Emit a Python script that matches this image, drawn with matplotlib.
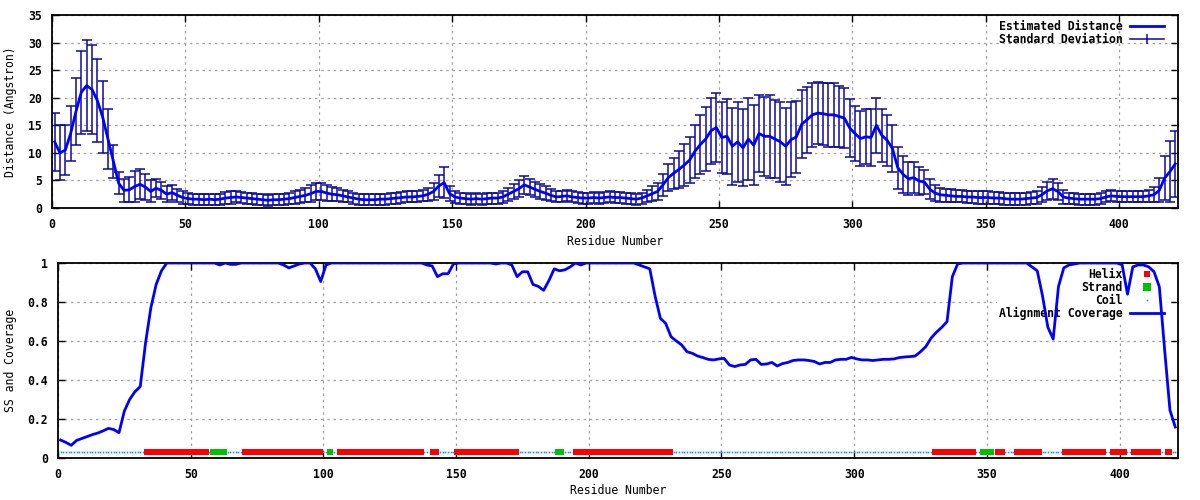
import numpy as np
import matplotlib
matplotlib.use("Agg")
import matplotlib.pyplot as plt
from matplotlib.lines import Line2D

# residues sampled every 2 (1, 3, ..., 421)
residues = np.arange(1, 422, 2)

distance = [
    12.0, 10.0, 10.5, 13.5, 17.5, 21.0, 22.2, 21.5, 19.5, 16.5,   # 1-19
    12.5, 8.5, 4.5, 3.2, 3.3, 3.9, 4.3, 3.8, 3.0, 3.6,            # 21-39
    3.2, 2.5, 2.8, 2.3, 1.9, 1.7, 1.6, 1.6, 1.5, 1.6,             # 41-59
    1.5, 1.6, 1.8, 1.9, 2.0, 1.9, 1.8, 1.7, 1.6, 1.5,             # 61-79
    1.4, 1.5, 1.5, 1.6, 1.7, 1.9, 2.1, 2.3, 2.6, 3.0,             # 81-99
    3.0, 2.7, 2.5, 2.4, 2.2, 2.0, 1.8, 1.6, 1.5, 1.5,             # 101-119
    1.5, 1.6, 1.6, 1.7, 1.8, 1.9, 2.0, 2.0, 2.1, 2.2,             # 121-139
    2.5, 3.0, 4.0, 4.6, 2.6, 2.0, 1.8, 1.7, 1.6, 1.7,             # 141-159
    1.6, 1.7, 1.8, 1.8, 2.0, 2.5, 3.0, 3.5, 4.2, 3.8,             # 161-179
    3.4, 3.0, 2.7, 2.3, 2.0, 2.1, 2.2, 2.0, 1.9, 1.8,             # 181-199
    1.8, 1.9, 1.8, 1.9, 2.0, 1.9, 1.9, 1.8, 1.7, 1.6,             # 201-219
    1.8, 2.2, 2.6, 3.0, 4.2, 5.5, 6.3, 7.0, 7.8, 8.7,             # 221-239
    10.3, 11.5, 12.5, 14.0, 14.6, 12.8, 13.0, 11.2, 12.0, 10.9,   # 241-259
    12.5, 11.4, 13.5, 13.0, 13.0, 12.5, 12.0, 11.2, 12.4, 12.9,   # 261-279
    15.2, 16.0, 16.9, 17.2, 17.1, 16.9, 16.9, 16.6, 16.3, 14.5,   # 281-299
    13.5, 12.6, 12.9, 12.8, 15.0, 13.2, 12.3, 10.8, 7.3, 6.1,     # 301-319
    5.3, 5.5, 4.9, 4.7, 3.4, 2.7, 2.4, 2.3, 2.2, 2.1,             # 321-339
    2.1, 2.0, 2.0, 1.9, 1.9, 1.9, 1.8, 1.8, 1.7, 1.6,             # 341-359
    1.6, 1.6, 1.7, 1.8, 1.9, 2.4, 3.1, 3.5, 3.0, 2.0,             # 361-379
    1.8, 1.7, 1.6, 1.6, 1.6, 1.6, 1.7, 2.0, 2.2, 2.1,             # 381-399
    2.05, 2.05, 2.05, 2.05, 2.05, 2.2, 2.4, 3.2, 5.4, 6.6,        # 401-419
    8.0,                                                          # 421
]

std_dev = [
    5.2, 5.0, 4.5, 5.0, 6.0, 7.5, 8.2, 8.0, 7.5, 6.5,
    5.5, 3.0, 2.0, 2.1, 2.3, 2.8, 2.7, 2.3, 2.0, 1.6,
    1.6, 1.4, 1.3, 1.2, 1.1, 1.0, 1.0, 1.0, 1.0, 1.0,
    1.0, 1.0, 1.1, 1.1, 1.0, 1.0, 1.0, 1.0, 1.0, 1.0,
    1.0, 1.0, 1.0, 1.0, 1.0, 1.1, 1.2, 1.3, 1.5, 1.6,
    1.5, 1.4, 1.3, 1.2, 1.1, 1.0, 1.0, 1.0, 1.0, 1.0,
    1.0, 1.0, 1.0, 1.0, 1.0, 1.0, 1.0, 1.0, 1.0, 1.0,
    1.2, 1.5, 2.0, 2.8, 1.4, 1.1, 1.0, 1.0, 1.0, 1.0,
    1.0, 1.0, 1.0, 1.0, 1.1, 1.2, 1.4, 1.5, 1.6, 1.5,
    1.4, 1.3, 1.2, 1.1, 1.0, 1.0, 1.0, 1.0, 1.0, 1.0,
    1.0, 1.0, 1.0, 1.0, 1.0, 1.0, 1.0, 1.0, 1.0, 1.0,
    1.0, 1.1, 1.3, 1.6, 2.0, 2.4, 2.8, 3.3, 3.8, 4.2,
    4.8, 5.3, 5.8, 6.0, 6.2, 6.5, 6.8, 7.0, 7.2, 7.0,
    7.5, 7.2, 7.0, 7.2, 7.5, 7.0, 7.2, 7.0, 6.8, 6.5,
    6.2, 6.0, 5.8, 5.6, 5.6, 5.8, 5.8, 5.6, 5.5, 5.2,
    5.0, 5.0, 5.0, 5.2, 5.0, 4.8, 4.6, 4.3, 3.8, 3.4,
    3.0, 2.8, 2.5, 2.2, 1.8, 1.5, 1.3, 1.2, 1.2, 1.1,
    1.1, 1.1, 1.1, 1.1, 1.1, 1.1, 1.1, 1.1, 1.1, 1.1,
    1.1, 1.1, 1.1, 1.1, 1.2, 1.4, 1.6, 1.8, 1.6, 1.2,
    1.0, 1.0, 1.0, 1.0, 1.0, 1.0, 1.0, 1.0, 1.0, 1.0,
    1.0, 1.0, 1.0, 1.0, 1.0, 1.1, 1.4, 2.2, 4.0, 5.5,
    6.0,
]

coverage = [
    0.092, 0.08, 0.065, 0.09, 0.10, 0.11, 0.12, 0.128, 0.139, 0.152,
    0.146, 0.13, 0.24, 0.30, 0.34, 0.366, 0.59, 0.77, 0.89, 0.96,
    1.0, 1.0, 1.0, 1.0, 1.0, 1.0, 1.0, 1.0, 1.0, 1.0,
    0.99, 1.0, 0.993, 0.993, 1.0, 1.0, 1.0, 1.0, 1.0, 1.0,
    1.0, 1.0, 0.99, 0.975, 0.985, 0.995, 1.0, 1.0, 0.97, 0.905,
    0.99, 1.0, 1.0, 1.0, 1.0, 1.0, 1.0, 1.0, 1.0, 1.0,
    1.0, 1.0, 1.0, 1.0, 1.0, 1.0, 1.0, 1.0, 1.0, 0.99,
    0.985, 0.93, 0.945, 0.945, 0.995, 1.0, 1.0, 1.0, 1.0, 1.0,
    1.0, 1.0, 0.995, 1.0, 1.0, 0.99, 0.93, 0.955, 0.955, 0.89,
    0.88, 0.86, 0.91, 0.97, 0.96, 0.965, 0.98, 1.0, 0.99, 1.0,
    1.0, 1.0, 1.0, 1.0, 1.0, 1.0, 1.0, 1.0, 1.0, 0.99,
    0.98, 0.97, 0.83, 0.716, 0.69, 0.622, 0.60, 0.58, 0.545, 0.537,
    0.523, 0.515, 0.506, 0.503, 0.508, 0.511, 0.477, 0.469, 0.477, 0.48,
    0.503, 0.506, 0.48, 0.482, 0.49, 0.472, 0.484, 0.49, 0.5, 0.503,
    0.503, 0.5, 0.495, 0.482, 0.49, 0.49, 0.503, 0.506, 0.506, 0.516,
    0.508, 0.503, 0.503, 0.5, 0.503, 0.506, 0.506, 0.508, 0.515, 0.518,
    0.52, 0.523, 0.545, 0.571, 0.615, 0.645, 0.67, 0.699, 0.93, 0.995,
    1.0, 1.0, 1.0, 1.0, 1.0, 1.0, 1.0, 1.0, 1.0, 1.0,
    1.0, 1.0, 1.0, 0.98, 0.96, 0.83, 0.67, 0.61, 0.88, 0.975,
    0.99, 0.995, 1.0, 1.0, 1.0, 1.0, 1.0, 1.0, 1.0, 1.0,
    0.99, 0.84, 0.98, 0.99, 0.99, 0.98, 0.955, 0.878, 0.554, 0.245,
    0.159,
]

# secondary structure segments (first, last residue)
helix_segments = [(33, 56), (70, 99), (106, 137), (141, 143), (150, 173),
                  (195, 231), (330, 345), (354, 356), (361, 370), (379, 394),
                  (397, 402), (405, 415), (418, 419)]
strand_segments = [(58, 63), (102, 103), (188, 190), (348, 352)]
n_residues = 421
ss_level = 0.03

all_res = np.arange(1, n_residues + 1)
helix_res = np.concatenate([np.arange(a, b + 1) for a, b in helix_segments])
strand_res = np.concatenate([np.arange(a, b + 1) for a, b in strand_segments])
coil_res = np.setdiff1d(all_res, np.concatenate([helix_res, strand_res]))

plt.rcParams['font.family'] = ['DejaVu Sans Mono']
plt.rcParams['font.weight'] = 'bold'
plt.rcParams['font.size'] = 8.3

fig = plt.figure(figsize=(12, 5), dpi=100)
ax1 = fig.add_axes([0.0433, 0.584, 0.9383, 0.386])
ax2 = fig.add_axes([0.0483, 0.084, 0.9333, 0.39])

grid_kw = dict(color='#a0a0a0', linestyle=(0, (2, 3)), linewidth=0.9)
leg_kw = dict(loc='upper right', markerfirst=False, handlelength=3.0,
              labelspacing=0.0, handletextpad=0.6, borderaxespad=0.2,
              borderpad=0.2)
# narrow upright box used for the SS marks
ss_box = [(-2.5, -3.5), (2.5, -3.5), (2.5, 3.5), (-2.5, 3.5), (-2.5, -3.5)]

# ---- top: estimated distance
ax1.errorbar(residues, distance, yerr=std_dev, fmt='none', ecolor='#0a0aa0',
             elinewidth=1.1, capsize=3.5, capthick=1.1, zorder=3)
ax1.plot(residues, distance, color='#0000ff', lw=2, zorder=4)
ax1.set_xlim(0, 422)
ax1.set_ylim(0, 35)
ax1.set_xticks(range(0, 401, 50))
ax1.set_yticks(range(0, 36, 5))
ax1.set_axisbelow(True)
ax1.grid(True, **grid_kw)
ax1.set_xlabel('Residue Number')
ax1.set_ylabel('Distance (Angstron)')

h_line = Line2D([], [], color='#0000ff', lw=2)
h_err = Line2D([], [], color='#0a0aa0', lw=1.1, marker='|', ms=7, mew=1.1)
ax1.legend([h_line, h_err], ['Estimated Distance', 'Standard Deviation'],
           frameon=False, bbox_to_anchor=(1 - 9 / 1126, 1), **leg_kw)

# ---- bottom: SS and coverage
ax2.plot(coil_res, np.full(len(coil_res), ss_level), ls='none', marker='s',
         ms=1.2, color='#1e90ff', mew=0, zorder=3)
ax2.plot(helix_res, np.full(len(helix_res), ss_level), ls='none',
         marker=ss_box, ms=5.0, color='#ff0000', mew=0, zorder=3)
ax2.plot(strand_res, np.full(len(strand_res), ss_level), ls='none',
         marker=ss_box, ms=5.0, color='#00c000', mew=0, zorder=3)
ax2.plot(residues, coverage, color='#0000ff', lw=2, zorder=4)
ax2.set_xlim(0, 422)
ax2.set_ylim(0, 1)
ax2.set_xticks(range(0, 401, 50))
ax2.set_yticks([0, 0.2, 0.4, 0.6, 0.8, 1])
ax2.set_yticklabels(['0', '0.2', '0.4', '0.6', '0.8', '1'])
ax2.set_axisbelow(True)
ax2.grid(True, **grid_kw)
ax2.set_xlabel('Residue Number')
ax2.set_ylabel('SS and Coverage')

handles2 = [
    Line2D([], [], ls='none', marker='s', ms=4.2, color='#ff0000', mew=0),
    Line2D([], [], ls='none', marker='s', ms=5.5, color='#00c000', mew=0),
    Line2D([], [], ls='none', marker='s', ms=1.2, color='#1e90ff', mew=0),
    Line2D([], [], color='#0000ff', lw=2),
]
leg2 = ax2.legend(handles2, ['Helix', 'Strand', 'Coil', 'Alignment Coverage'],
                  frameon=True, facecolor='white', edgecolor='none',
                  fancybox=False, framealpha=1,
                  bbox_to_anchor=(1 - 9 / 1120, 1), **leg_kw)
leg2.set_zorder(2.5)

for ax, xl, yl in ((ax1, -0.0369, -0.171), (ax2, -0.042, -0.169)):
    ax.tick_params(direction='in', length=5, width=1, top=True, right=True,
                   pad=7)
    for s in ax.spines.values():
        s.set_linewidth(1.3)
    ax.yaxis.set_label_coords(xl, 0.5)
    ax.yaxis.label.set_va('center')
    ax.xaxis.set_label_coords(0.5, yl)
    ax.xaxis.label.set_va('center')

fig.savefig('out.png', dpi=100)
